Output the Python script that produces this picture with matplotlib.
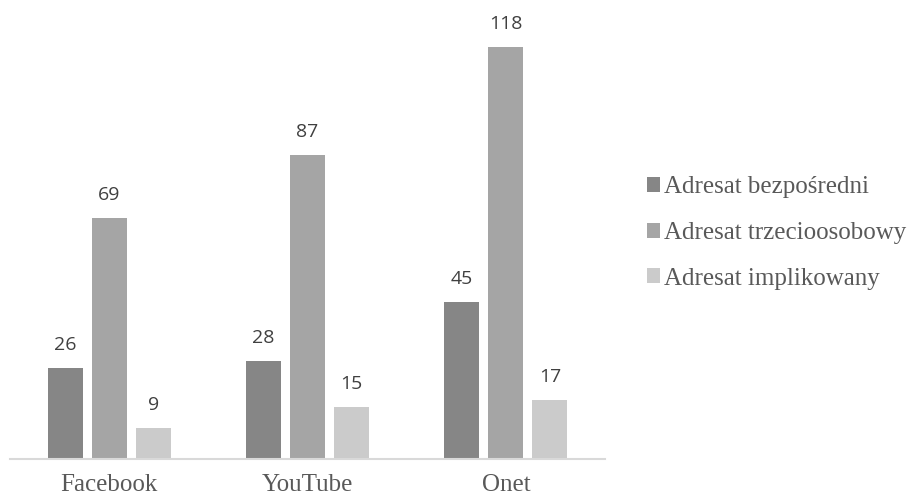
import matplotlib
matplotlib.use("Agg")
import matplotlib.pyplot as plt
import numpy as np

categories = ["Facebook", "YouTube", "Onet"]
series_names = ["Adresat bezpośredni", "Adresat trzecioosobowy", "Adresat implikowany"]
bezposredni = [26, 28, 45]
trzecioosobowy = [69, 87, 118]
implikowany = [9, 15, 17]

colors = ["#868686", "#a5a5a5", "#cbcbcb"]
values = [bezposredni, trzecioosobowy, implikowany]

fig = plt.figure(figsize=(9.15, 4.98), dpi=100)
ax = fig.add_axes([10 / 915, 39 / 498, 595 / 915, 459 / 498])

x = np.arange(len(categories))
width = 0.177
step = 0.222

for i, (name, vals, c) in enumerate(zip(series_names, values, colors)):
    pos = x + (i - 1) * step
    bars = ax.bar(pos, vals, width, color=c, label=name)
    for b, v in zip(bars, vals):
        ax.text(b.get_x() + b.get_width() / 2, v + 4, str(v), ha="center", va="bottom",
                fontsize=14, color="#404040", family="Open Sans")

ax.set_xlim(-0.5, 2.5)
ax.set_ylim(0, 131.5)
ax.set_yticks([])
ax.set_xticks(x)
ax.set_xticklabels(categories, fontsize=18, color="#595959", family="Liberation Serif")
ax.tick_params(axis="x", length=0, pad=11)
for s in ["top", "right", "left"]:
    ax.spines[s].set_visible(False)
ax.spines["bottom"].set_color("#d9d9d9")
ax.spines["bottom"].set_linewidth(1.5)

leg = fig.legend(loc="center left", bbox_to_anchor=(624 / 915, 1 - 233 / 498), frameon=False,
                 prop={"family": "Liberation Serif", "size": 18}, handlelength=0.55, handleheight=0.55,
                 handletextpad=0.15, labelspacing=0.95, labelcolor="#595959")

fig.savefig("out.png", dpi=100)
